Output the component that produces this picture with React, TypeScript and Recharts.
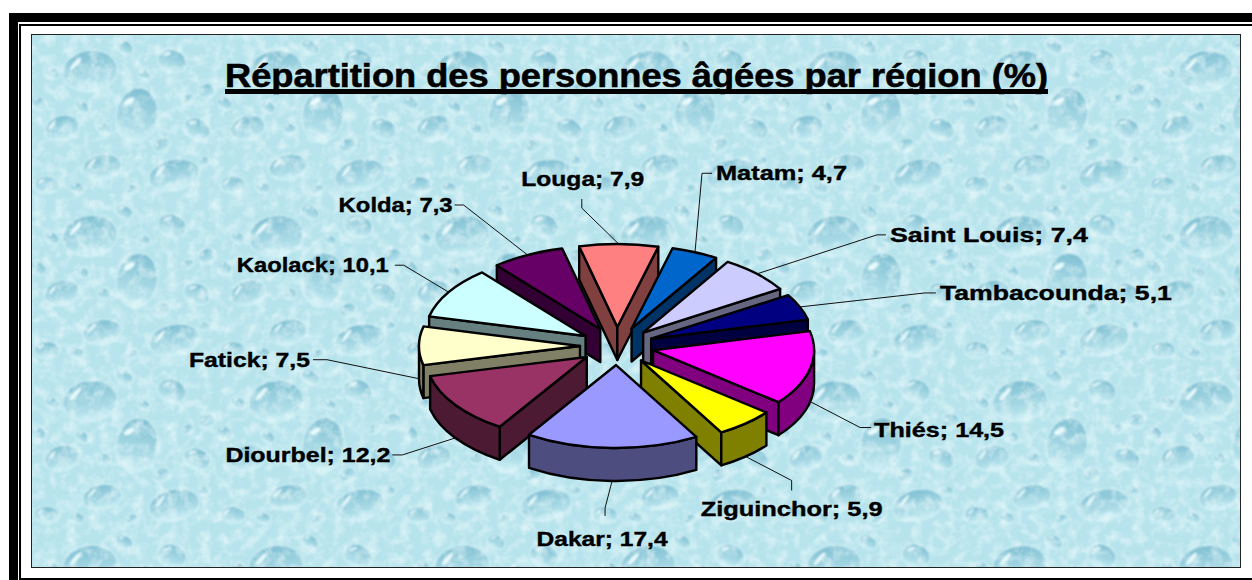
import React from 'react'
import { PieChart, Pie } from 'recharts'

const WIDTH = 1252
const HEIGHT = 580

const regions = ['Dakar', 'Diourbel', 'Fatick', 'Kaolack', 'Kolda', 'Louga', 'Matam', 'Saint Louis', 'Tambacounda', 'Thiés', 'Ziguinchor']
const shares = [17.4, 12.2, 7.5, 10.1, 7.3, 7.9, 4.7, 7.4, 5.1, 14.5, 5.9]
const topColors = ['#9999FF', '#993366', '#FFFFCC', '#CCFFFF', '#660066', '#FF8080', '#0066CC', '#CCCCFF', '#000080', '#FF00FF', '#FFFF00']
const wallColors = ['#4D4D80', '#4D1A33', '#808066', '#668080', '#330033', '#804040', '#003366', '#666680', '#000040', '#800080', '#808000']

// back slices first, the front ones overlap them
const paintOrder = [5, 4, 6, 7, 3, 8, 2, 9, 1, 10, 0]

// leader line: rim -> elbow -> tail, then text. offsets in px, elbow from rim, tail from elbow
const labelLayout = [
  { elbow: [-7, 27], tail: [0, 8], text: [-3, 30], width: 131, anchor: 'middle' },
  { elbow: [-53, 17], tail: [-10, 0], text: [-2, 7], width: 165, anchor: 'end' },
  { elbow: [-92, -19], tail: [-14, 0], text: [-3, 7], width: 121, anchor: 'end' },
  { elbow: [-45, -27], tail: [-9, 0], text: [-6, 7], width: 152, anchor: 'end' },
  { elbow: [-64, -50], tail: [-9, 0], text: [-2, 7], width: 114, anchor: 'end' },
  { elbow: [-37, -36], tail: [0, -9], text: [1, -13], width: 123, anchor: 'middle' },
  { elbow: [7, -79], tail: [10, 0], text: [4, 7], width: 131, anchor: 'start' },
  { elbow: [120, -39], tail: [9, 0], text: [4, 7], width: 198, anchor: 'start' },
  { elbow: [125, -14], tail: [11, 0], text: [4, 7], width: 232, anchor: 'start' },
  { elbow: [50, 26], tail: [11, 0], text: [3, 9], width: 130, anchor: 'start' },
  { elbow: [46, 24], tail: [0, 10], text: [0, 25], width: 182, anchor: 'middle' },
]

// water drops of one background tile: x, y, rx, ry, tilt
const drops = [
  [58, 38, 27, 20, -8], [140, 28, 14, 11, 20], [30, 95, 17, 12, -15], [105, 82, 20, 27, 10], [165, 96, 13, 10, 25],
  [70, 134, 19, 12, -10], [142, 142, 25, 15, -12], [15, 152, 12, 8, 0], [92, 14, 9, 6, 30], [175, 58, 8, 7, -20],
  [50, 74, 7, 5, 35], [130, 112, 8, 6, -30], [20, 40, 7, 5, 30], [112, 42, 6, 4, 20], [156, 66, 6, 4, -35],
  [45, 155, 7, 5, 15], [100, 156, 6, 4, -20], [72, 96, 6, 5, 10], [6, 70, 8, 6, 30], [172, 128, 5, 4, 0],
]

const slices = regions.map((name, i) => ({ name, value: shares[i] }))

const SQUASH = 0.515 // 3d tilt of the pie
const EXPLODE = 37
const DEPTH = 33
const RAD = Math.PI / 180

// theta is clockwise from 12 o'clock
function onEllipse(x: number, y: number, r: number, theta: number) {
  return [x + r * Math.sin(theta * RAD), y - r * SQUASH * Math.cos(theta * RAD)]
}

function Wedge(props: any) {
  const { cx, cy, outerRadius: r, startAngle, endAngle, index } = props
  const span = Math.abs(startAngle - endAngle)
  const t1 = (((90 - startAngle) % 360) + 360) % 360
  const t2 = t1 + span
  const [ax, ay] = onEllipse(cx, cy, EXPLODE, t1 + span / 2)
  const [x1, y1] = onEllipse(ax, ay, r, t1)
  const [x2, y2] = onEllipse(ax, ay, r, t2)
  const arc = (x: number, y: number, sweep: number, large = 0) => `A${r} ${r * SQUASH} 0 ${large} ${sweep} ${x} ${y}`
  const side = { fill: wallColors[index], stroke: '#000', strokeWidth: 2.4, strokeLinejoin: 'round' as const }

  // the part of the rim facing the viewer
  const rimFrom = Math.max(t1, t1 > 270 ? 450 : 90)
  const rimTo = Math.min(t2, t1 > 270 ? 630 : 270)

  let rim = null
  if (rimTo > rimFrom) {
    const [rx1, ry1] = onEllipse(ax, ay, r, rimFrom)
    const [rx2, ry2] = onEllipse(ax, ay, r, rimTo)
    rim = <path {...side} d={`M${rx1} ${ry1}${arc(rx2, ry2, 1)}L${rx2} ${ry2 + DEPTH}${arc(rx1, ry1 + DEPTH, 0)}Z`} />
  }

  return (
    <g>
      {Math.sin(t1 * RAD) < 0 && <path {...side} d={`M${ax} ${ay}L${x1} ${y1}L${x1} ${y1 + DEPTH}L${ax} ${ay + DEPTH}Z`} />}
      {Math.sin(t2 * RAD) > 0 && <path {...side} d={`M${ax} ${ay}L${x2} ${y2}L${x2} ${y2 + DEPTH}L${ax} ${ay + DEPTH}Z`} />}
      {rim}
      <path
        d={`M${ax} ${ay}L${x1} ${y1}${arc(x2, y2, 1, span > 180 ? 1 : 0)}Z`}
        fill={topColors[index]}
        stroke="#000"
        strokeWidth={2.4}
        strokeLinejoin="round"
      />
    </g>
  )
}

function SliceLabel(props: any) {
  const { cx, cy, outerRadius: r, midAngle, index, name, value } = props
  const layout = labelLayout[index]
  const theta = 90 - midAngle
  const [ax, ay] = onEllipse(cx, cy, EXPLODE, theta)
  const [rimX, rimY] = onEllipse(ax, ay, r, theta)
  const y0 = Math.cos(theta * RAD) < 0.1 ? rimY + DEPTH : rimY
  const ex = rimX + layout.elbow[0]
  const ey = y0 + layout.elbow[1]
  const tx = ex + layout.tail[0]
  const ty = ey + layout.tail[1]
  return (
    <g>
      <polyline points={`${rimX},${y0} ${ex},${ey} ${tx},${ty}`} fill="none" stroke="#111" strokeWidth={1} />
      <text
        x={tx + layout.text[0]}
        y={ty + layout.text[1]}
        textAnchor={layout.anchor as any}
        textLength={layout.width}
        lengthAdjust="spacingAndGlyphs"
        fontFamily="'Liberation Sans', Arial, sans-serif"
        fontWeight="bold"
        fontSize={21}
        fill="#000"
        stroke="#000"
        strokeWidth={0.4}
      >
        {`${name}; ${String(value).replace('.', ',')}`}
      </text>
    </g>
  )
}

function Backdrop() {
  return (
    <svg width={WIDTH} height={HEIGHT} style={{ position: 'absolute', left: 0, top: 0 }}>
      <defs>
        <linearGradient id="drop" x1="0" y1="0" x2="0" y2="1">
          <stop offset="0%" stopColor="#7FBFD2" stopOpacity={1} />
          <stop offset="75%" stopColor="#A8DAE6" stopOpacity={0.8} />
          <stop offset="100%" stopColor="#BBE6EE" stopOpacity={0} />
        </linearGradient>
        <filter id="soft" x="-5%" y="-5%" width="110%" height="110%">
          <feGaussianBlur stdDeviation="0.8" />
        </filter>
        <pattern id="water" width={186} height={165} patternUnits="userSpaceOnUse" x={32} y={33}>
          <rect width={186} height={165} fill="#B6E3EC" />
          <g filter="url(#soft)">
            {drops.map(([x, y, rx, ry, tilt], i) => (
              <g key={i} transform={`rotate(${tilt} ${x} ${y})`}>
                <ellipse cx={x} cy={y} rx={rx + 1.5} ry={ry + 1.5} fill="#D2F1F6" opacity={0.8} />
                <ellipse cx={x} cy={y} rx={rx} ry={ry} fill="url(#drop)" />
                <ellipse cx={x - rx * 0.5} cy={y - ry * 0.45} rx={rx * 0.3} ry={Math.max(1, ry * 0.1)} fill="#E8FBFD" transform={`rotate(-40 ${x - rx * 0.5} ${y - ry * 0.45})`} />
              </g>
            ))}
          </g>
        </pattern>
        <filter id="mottle" x="0" y="0" width="100%" height="100%">
          <feTurbulence type="fractalNoise" baseFrequency="0.09" numOctaves={3} seed={4} />
          <feColorMatrix values="0 0 0 0 0.84  0 0 0 0 0.96  0 0 0 0 0.97  2 0 0 0 -0.8" />
        </filter>
      </defs>

      <rect x={9} y={13} width={WIDTH - 9} height={9} fill="#000" />
      <rect x={9} y={13} width={9} height={HEIGHT - 13} fill="#000" />
      <rect x={20} y={25} width={WIDTH} height={HEIGHT - 26} fill="none" stroke="#000" strokeWidth={2} />

      <rect x={32} y={35} width={1208} height={532} fill="url(#water)" />
      <rect x={32} y={35} width={1208} height={532} filter="url(#mottle)" opacity={0.7} />
      <rect x={31.5} y={34.5} width={1209} height={533} fill="none" stroke="#222" strokeWidth={1} />

      <text
        x={225}
        y={87}
        textLength={823}
        lengthAdjust="spacingAndGlyphs"
        fontFamily="'Liberation Sans', Arial, sans-serif"
        fontWeight="bold"
        fontSize={34}
        fill="#000"
        stroke="#000"
        strokeWidth={0.6}
      >
        Répartition des personnes âgées par région (%)
      </text>
      <rect x={225} y={89} width={823} height={5} fill="#000" />
    </svg>
  )
}

export default function App() {
  const pieProps = {
    data: slices,
    dataKey: 'value',
    nameKey: 'name',
    cx: 617,
    cy: 346,
    outerRadius: 161,
    startAngle: -60.1,
    endAngle: -420.1,
    isAnimationActive: false,
  }
  return (
    <div style={{ position: 'absolute', left: 0, top: 0, width: WIDTH, height: HEIGHT, overflow: 'hidden', background: '#fff' }}>
      <Backdrop />
      <div style={{ position: 'absolute', left: 0, top: 0 }}>
        <PieChart width={WIDTH} height={HEIGHT} margin={{ top: 0, right: 0, bottom: 0, left: 0 }}>
          {paintOrder.map((idx) => (
            <Pie
              key={idx}
              {...pieProps}
              labelLine={false}
              shape={(p: any) => (p.index === idx ? <Wedge {...p} index={idx} /> : <g />)}
            />
          ))}
          <Pie key="labels" {...pieProps} shape={() => <g />} labelLine={false} label={(p: any) => <SliceLabel {...p} />} />
        </PieChart>
      </div>
    </div>
  )
}
